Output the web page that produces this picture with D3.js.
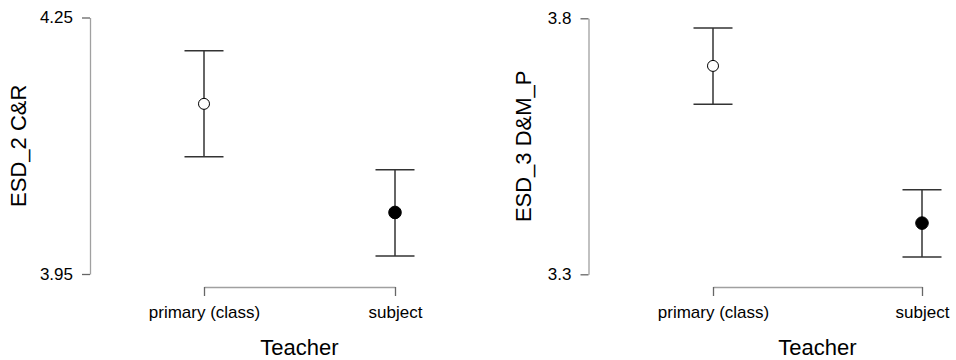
<!DOCTYPE html>
<html>
<head>
<meta charset="utf-8">
<script src="https://cdn.jsdelivr.net/npm/d3@7"></script>
<style>
  body { margin: 0; background: #fff; }
  svg { display: block; font-family: "Liberation Sans", Arial, sans-serif; }
</style>
</head>
<body>
<div id="chart"></div>
<script>
// data
const categories = ['primary (class)', 'subject'];
const xTitle = 'Teacher';

const esd2Title = 'ESD_2 C&R';
const esd2Ticks = [3.95, 4.25];
const esd2Mean = [4.149, 4.022];
const esd2Lower = [4.087, 3.971];
const esd2Upper = [4.211, 4.072];

const esd3Title = 'ESD_3 D&M_P';
const esd3Ticks = [3.3, 3.8];
const esd3Mean = [3.707, 3.400];
const esd3Lower = [3.632, 3.334];
const esd3Upper = [3.781, 3.465];

const svg = d3.select('#chart')
    .append('svg')
    .attr('width', 956)
    .attr('height', 360);

// one panel = one plot
const drawPanel = (p) => {
    const g = svg.append('g');

    let y = d3.scaleLinear().domain(d3.extent(p.ticks)).range([p.yBottom, p.yTop]);
    let x = d3.scalePoint().domain(categories).range([p.x0, p.x1]).padding(0);

    // y axis
    const ya = g.append('g')
        .attr('transform', `translate(${p.yAxisX},0)`)
        .call(d3.axisLeft(y).tickValues(p.ticks).tickSize(8).tickSizeOuter(0).tickPadding(9)
            .tickFormat(d3.format(p.fmt)));
    ya.select('.domain').attr('stroke', '#a0a0a0').attr('stroke-width', 1.3);
    ya.selectAll('.tick line').attr('stroke', '#666').attr('stroke-width', 1.3);
    ya.selectAll('.tick text').attr('font-size', 17).attr('fill', '#000')
        .attr('font-family', '"Liberation Sans", Arial, sans-serif');

    // x axis
    const xa = g.append('g')
        .attr('transform', `translate(0,${p.xAxisY})`)
        .call(d3.axisBottom(x).tickSize(9).tickSizeOuter(0).tickPadding(10));
    xa.select('.domain').attr('stroke', '#a0a0a0').attr('stroke-width', 1.3);
    xa.selectAll('.tick line').attr('stroke', '#666').attr('stroke-width', 1.3);
    xa.selectAll('.tick text').attr('font-size', 17).attr('fill', '#000')
        .attr('font-family', '"Liberation Sans", Arial, sans-serif');

    // axis titles
    g.append('text')
        .attr('transform', `translate(${p.yTitleX},${(p.yTop + p.yBottom) / 2}) rotate(-90)`)
        .attr('text-anchor', 'middle')
        .attr('dominant-baseline', 'central')
        .attr('font-size', 22)
        .text(p.title);
    g.append('text')
        .attr('x', (p.x0 + p.x1) / 2)
        .attr('y', 355)
        .attr('text-anchor', 'middle')
        .attr('font-size', 22)
        .text(xTitle);

    // error bars
    const cap = 19.5;
    const bars = g.selectAll('.bar')
        .data(categories.map((c, i) => ({c, i, m: p.mean[i], lo: p.lower[i], hi: p.upper[i]})))
        .enter()
        .append('g');
    bars.append('line')
        .attr('x1', d => x(d.c)).attr('x2', d => x(d.c))
        .attr('y1', d => y(d.hi)).attr('y2', d => y(d.lo))
        .attr('stroke', '#333').attr('stroke-width', 1.5);
    bars.append('line')
        .attr('x1', d => x(d.c) - cap).attr('x2', d => x(d.c) + cap)
        .attr('y1', d => y(d.hi)).attr('y2', d => y(d.hi))
        .attr('stroke', '#333').attr('stroke-width', 1.5);
    bars.append('line')
        .attr('x1', d => x(d.c) - cap).attr('x2', d => x(d.c) + cap)
        .attr('y1', d => y(d.lo)).attr('y2', d => y(d.lo))
        .attr('stroke', '#333').attr('stroke-width', 1.5);
    bars.append('circle')
        .attr('cx', d => x(d.c))
        .attr('cy', d => y(d.m))
        .attr('r', d => d.i === 0 ? 5.5 : 6.3)
        .attr('fill', d => d.i === 0 ? '#fff' : '#000')
        .attr('stroke', '#000')
        .attr('stroke-width', 1);
};

drawPanel({
    title: esd2Title, ticks: esd2Ticks, fmt: '.2f',
    mean: esd2Mean, lower: esd2Lower, upper: esd2Upper,
    yTop: 17.5, yBottom: 274, yAxisX: 90,
    x0: 204, x1: 395, xAxisY: 287, yTitleX: 18
});
drawPanel({
    title: esd3Title, ticks: esd3Ticks, fmt: '.1f',
    mean: esd3Mean, lower: esd3Lower, upper: esd3Upper,
    yTop: 18.3, yBottom: 274.3, yAxisX: 588.5,
    x0: 713, x1: 922, xAxisY: 287, yTitleX: 523
});
</script>
</body>
</html>
